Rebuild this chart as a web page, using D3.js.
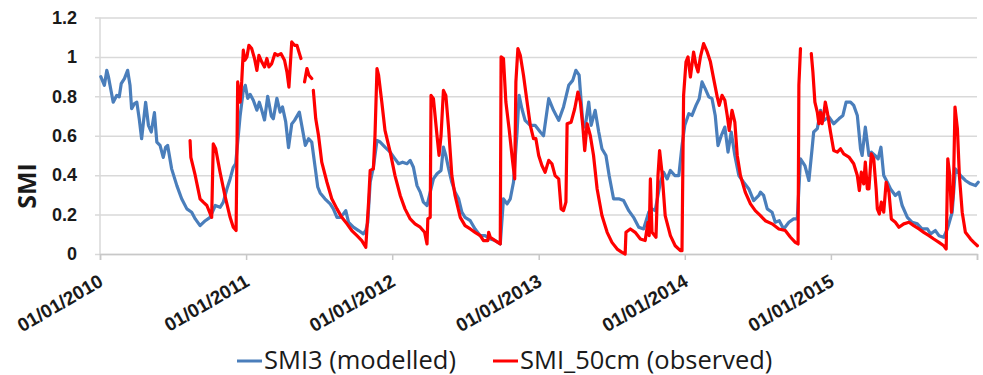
<!DOCTYPE html>
<html>
<head>
<meta charset="utf-8">
<script src="https://cdn.jsdelivr.net/npm/d3@7"></script>
<style>
  body { margin: 0; background: #fff; }
  svg { display: block; font-family: "Open Sans", sans-serif; }
</style>
</head>
<body>
<svg width="983" height="375"></svg>
<script>
// dates are "year-dayOfYear"
var smiDates = [
  "2010-003","2010-012","2010-018","2010-022","2010-026","2010-034","2010-043","2010-049","2010-054","2010-062",
  "2010-070","2010-076","2010-080","2010-087","2010-093","2010-099","2010-105","2010-115","2010-122","2010-129",
  "2010-137","2010-143","2010-151","2010-159","2010-165","2010-170","2010-180","2010-193","2010-205","2010-218",
  "2010-230","2010-239","2010-251","2010-264","2010-276","2010-289","2010-301","2010-309","2010-318","2010-326",
  "2010-334","2010-340","2010-351","2010-359","2010-364",
  "2011-005","2011-011","2011-019","2011-028","2011-034","2011-040","2011-047","2011-055","2011-064","2011-069",
  "2011-078","2011-086","2011-092","2011-100","2011-107","2011-115","2011-122","2011-134","2011-140","2011-149",
  "2011-157","2011-165","2011-174","2011-180","2011-186","2011-198","2011-211","2011-219","2011-228","2011-236",
  "2011-244","2011-250","2011-257","2011-269","2011-282","2011-294","2011-300","2011-305","2011-311","2011-319",
  "2011-328","2011-336","2011-348","2011-361",
  "2012-008","2012-017","2012-027","2012-038","2012-046","2012-054","2012-063","2012-071","2012-079","2012-088",
  "2012-096","2012-104","2012-113","2012-123","2012-129","2012-135","2012-142","2012-150","2012-158","2012-167",
  "2012-175","2012-183","2012-196","2012-208","2012-221","2012-233","2012-246","2012-258","2012-271","2012-279",
  "2012-288","2012-296","2012-304","2012-313","2012-318","2012-325","2012-333","2012-346","2012-358",
  "2013-005","2013-013","2013-026","2013-038","2013-051","2013-063","2013-076","2013-086","2013-094","2013-102",
  "2013-111","2013-117","2013-126","2013-132","2013-142","2013-151","2013-159","2013-169","2013-177","2013-188",
  "2013-201","2013-213","2013-226","2013-238","2013-251","2013-263","2013-276","2013-284","2013-292","2013-305",
  "2013-313","2013-322","2013-330","2013-341","2013-351","2013-359",
  "2014-001","2014-011","2014-019","2014-029","2014-037","2014-044","2014-052","2014-061","2014-069","2014-077",
  "2014-084","2014-092","2014-101","2014-109","2014-117","2014-126","2014-136","2014-148","2014-161","2014-173",
  "2014-186","2014-190","2014-198","2014-207","2014-219","2014-227","2014-237","2014-248","2014-261","2014-273",
  "2014-282","2014-290","2014-301","2014-311","2014-319","2014-323","2014-332","2014-340","2014-348","2014-361",
  "2015-008","2015-021","2015-031","2015-039","2015-050","2015-058","2015-067","2015-075","2015-079","2015-087",
  "2015-096","2015-102","2015-111","2015-119","2015-126","2015-133","2015-142","2015-150","2015-162","2015-171",
  "2015-179","2015-192","2015-204","2015-217","2015-229","2015-242","2015-250","2015-262","2015-271","2015-283",
  "2015-292","2015-304","2015-312","2015-325","2015-337","2015-350","2015-362","2016-004"
];
var smiValues = [
  0.90,0.856,0.932,0.90,0.856,0.77,0.805,0.797,0.864,0.89,
  0.932,0.856,0.737,0.763,0.77,0.686,0.585,0.77,0.653,0.619,
  0.717,0.568,0.551,0.49,0.542,0.551,0.432,0.347,0.28,0.229,
  0.212,0.178,0.144,0.169,0.186,0.246,0.237,0.263,0.33,0.381,
  0.44,0.458,0.70,0.83,0.856,
  0.79,0.81,0.78,0.73,0.77,0.73,0.68,0.80,0.70,0.686,
  0.79,0.72,0.746,0.67,0.54,0.66,0.678,0.72,0.653,0.551,
  0.585,0.568,0.432,0.34,0.31,0.28,0.254,0.229,0.186,0.186,
  0.203,0.22,0.161,0.136,0.119,0.102,0.119,0.161,0.364,0.44,
  0.576,0.568,0.542,0.517,
  0.483,0.458,0.466,0.458,0.475,0.44,0.347,0.314,0.263,0.246,
  0.314,0.381,0.407,0.424,0.542,0.50,0.432,0.364,0.314,0.28,
  0.212,0.186,0.169,0.127,0.093,0.093,0.076,0.068,0.051,0.28,
  0.254,0.28,0.364,0.619,0.805,0.737,0.678,0.653,0.653,
  0.619,0.60,0.788,0.729,0.678,0.746,0.856,0.881,0.932,0.907,
  0.669,0.644,0.771,0.653,0.729,0.619,0.534,0.50,0.398,0.28,
  0.28,0.271,0.22,0.186,0.136,0.127,0.212,0.229,0.22,0.364,
  0.415,0.381,0.424,0.398,0.398,0.55,
  0.653,0.712,0.703,0.754,0.788,0.873,0.839,0.797,0.788,0.703,
  0.55,0.60,0.644,0.517,0.619,0.50,0.398,0.364,0.33,0.271,
  0.297,0.314,0.297,0.229,0.212,0.161,0.169,0.127,0.161,0.178,
  0.178,0.483,0.449,0.373,0.534,0.619,0.636,0.729,0.678,0.695,
  0.661,0.686,0.703,0.771,0.771,0.754,0.703,0.534,0.50,0.644,
  0.50,0.517,0.50,0.483,0.542,0.398,0.364,0.33,0.297,0.314,
  0.246,0.186,0.161,0.153,0.127,0.127,0.102,0.119,0.093,0.085,
  0.127,0.212,0.432,0.398,0.373,0.356,0.347,0.364
];

// null = no observation (gap in the red line)
var obsDates = [
  "2010-226","2010-228","2010-238","2010-251","2010-259","2010-268","2010-280","2010-284","2010-290","2010-301",
  "2010-313","2010-326","2010-334","2010-341","2010-345","2010-348","2010-351","2010-355","2010-359","2010-363",
  "2011-003","2011-008","2011-015","2011-022","2011-028","2011-033","2011-040","2011-047","2011-053","2011-058",
  "2011-065","2011-073","2011-080","2011-088","2011-097","2011-103","2011-108","2011-115","2011-122","2011-128",
  "2011-133","2011-138","2011-142","2011-147","2011-153","2011-158","2011-165","2011-167","2011-169","2011-175",
  "2011-182","2011-190","2011-203","2011-215","2011-228","2011-240","2011-253","2011-265","2011-278","2011-290",
  "2011-300","2011-307","2011-311","2011-319","2011-323","2011-328","2011-332","2011-340","2011-348","2011-361",
  "2012-008","2012-021","2012-033","2012-046","2012-058","2012-071","2012-082","2012-088","2012-090","2012-096",
  "2012-098","2012-104","2012-113","2012-118","2012-123","2012-129","2012-135","2012-142","2012-150","2012-158",
  "2012-171","2012-183","2012-196","2012-208","2012-221","2012-229","2012-240","2012-242","2012-246","2012-258",
  "2012-271","2012-273","2012-279","2012-285","2012-293","2012-302","2012-307","2012-310","2012-315","2012-321",
  "2012-329","2012-338","2012-346","2012-354","2012-360",
  "2013-001","2013-009","2013-017","2013-026","2013-034","2013-042","2013-051","2013-057","2013-063","2013-069",
  "2013-072","2013-082","2013-091","2013-099","2013-105","2013-111","2013-116","2013-122","2013-130","2013-138",
  "2013-147","2013-159","2013-172","2013-184","2013-197","2013-209","2013-217","2013-219","2013-230","2013-242",
  "2013-255","2013-267","2013-274","2013-277","2013-280","2013-284","2013-291","2013-294","2013-299","2013-303",
  "2013-309","2013-317","2013-330","2013-342","2013-355","2013-359","2013-363",
  "2014-004","2014-009","2014-015","2014-023","2014-029","2014-034","2014-040","2014-048","2014-057","2014-065",
  "2014-073","2014-082","2014-087","2014-094","2014-101","2014-107","2014-112","2014-119","2014-126","2014-132",
  "2014-140","2014-152","2014-165","2014-177","2014-190","2014-202","2014-219","2014-236","2014-252","2014-265",
  "2014-277","2014-284","2014-286","2014-290","2014-300","2014-317","2014-321","2014-326","2014-332","2014-336",
  "2014-340","2014-344","2014-348","2014-352","2014-357","2014-365",
  "2015-008","2015-017","2015-025","2015-033","2015-046","2015-058","2015-067","2015-072","2015-077","2015-083",
  "2015-087","2015-092","2015-096","2015-102","2015-108","2015-114","2015-117","2015-122","2015-127","2015-133",
  "2015-139","2015-146","2015-152","2015-162","2015-171","2015-183","2015-196","2015-208","2015-221","2015-233",
  "2015-246","2015-258","2015-271","2015-283","2015-289","2015-293","2015-298","2015-302","2015-307","2015-311",
  "2015-317","2015-322","2015-329","2015-337","2015-350","2015-358","2016-002"
];
var obsValues = [
  0.576,0.49,0.407,0.28,0.263,0.246,0.186,0.559,0.534,0.415,
  0.297,0.186,0.136,0.119,0.873,0.822,0.771,0.873,1.034,0.983,
  1.0,1.059,1.042,0.992,0.932,1.008,0.975,0.949,0.992,0.949,
  0.966,1.017,1.008,1.017,0.983,0.924,0.847,1.076,1.059,1.059,
  1.025,0.992,null,0.873,0.941,0.907,0.89,null,0.83,0.686,
  0.60,0.466,0.364,0.28,0.229,0.186,0.153,0.119,0.093,0.068,
  0.034,0.263,0.424,0.432,0.60,0.941,0.907,0.771,0.627,0.517,
  0.398,0.297,0.229,0.178,0.153,0.136,0.11,0.051,0.178,0.186,
  0.805,0.788,0.60,0.50,0.60,0.83,0.805,0.636,0.398,0.297,
  0.186,0.144,0.127,0.11,0.093,0.068,0.068,0.11,0.085,0.068,
  0.051,1.0,0.992,0.771,0.636,0.466,0.381,0.873,1.042,1.008,
  0.907,0.771,0.653,0.585,0.585,
  0.50,0.449,0.415,0.475,0.458,0.398,0.381,0.229,0.22,0.263,
  0.661,0.669,0.737,0.822,0.771,0.653,0.525,0.661,0.60,0.50,
  0.33,0.195,0.11,0.059,0.025,0.008,0.0,0.11,0.127,0.11,
  0.076,0.068,0.161,0.093,0.381,0.11,0.093,0.085,0.398,0.525,
  0.415,0.195,0.093,0.042,0.017,0.017,0.805,
  0.975,1.0,0.898,1.025,0.958,0.924,1.0,1.068,1.025,0.975,
  0.89,0.797,0.754,0.805,0.78,0.703,0.627,0.729,0.669,0.50,
  0.398,0.314,0.254,0.22,0.195,0.169,0.153,0.127,0.119,0.085,
  0.059,0.051,0.856,1.042,null,1.017,0.924,0.771,0.72,0.661,
  0.72,0.661,0.703,0.771,0.72,0.619,
  0.525,0.517,0.534,0.508,0.492,0.458,0.398,0.322,0.415,0.356,
  0.466,0.33,0.33,0.508,0.483,0.33,0.229,0.203,0.263,0.212,
  0.364,0.314,0.178,0.161,0.136,0.153,0.161,0.144,0.127,0.11,
  0.093,0.076,0.059,0.042,0.025,0.483,0.398,0.212,0.314,0.746,
  0.636,0.398,0.212,0.11,0.076,0.059,0.042
];

var yTicks = [0, 0.2, 0.4, 0.6, 0.8, 1, 1.2];
var yTickLabels = ["0", "0.2", "0.4", "0.6", "0.8", "1", "1.2"];
var xTickDates = ["2010-001","2011-001","2012-001","2013-001","2014-001","2015-001","2016-001"];
var xTickLabels = ["01/01/2010","01/01/2011","01/01/2012","01/01/2013","01/01/2014","01/01/2015",""];
var seriesNames = ["SMI3 (modelled)", "SMI_50cm (observed)"];

var parse = d3.timeParse("%Y-%j");

var svg = d3.select("svg"),
    margin = {top: 17.5, right: 6, bottom: 121, left: 100},
    width = +svg.attr("width") - margin.left - margin.right,
    height = +svg.attr("height") - margin.top - margin.bottom;

var x = d3.scaleTime()
    .domain([parse(xTickDates[0]), parse(xTickDates[xTickDates.length - 1])])
    .range([0, width]);
var y = d3.scaleLinear().domain([0, 1.2]).range([height, 0]);

var g = svg.append("g")
    .attr("transform", "translate(" + margin.left + "," + margin.top + ")");

// horizontal gridlines + y labels
var yAxis = g.append("g")
    .call(d3.axisLeft(y).tickValues(yTicks).tickSize(-width)
      .tickFormat(function(d, i) { return yTickLabels[i]; }));
yAxis.select(".domain").remove();
yAxis.selectAll(".tick line")
    .attr("x1", -5)
    .attr("x2", width)
    .attr("stroke", "#d9d9d9")
    .attr("stroke-width", 1.5);
yAxis.selectAll(".tick text")
    .attr("fill", "#1a1a1a")
    .attr("x", -23)
    .style("font-size", "18px")
    .style("font-weight", "bold");

// left axis line
g.append("line")
    .attr("x1", 0).attr("x2", 0)
    .attr("y1", 0).attr("y2", height)
    .attr("stroke", "#d9d9d9")
    .attr("stroke-width", 1.5);

// bottom axis
var xAxis = g.append("g")
    .attr("transform", "translate(0," + height + ")")
    .call(d3.axisBottom(x).tickValues(xTickDates.map(parse)).tickSize(6)
      .tickFormat(function(d, i) { return xTickLabels[i]; }));
xAxis.select(".domain")
    .attr("stroke", "#c8c8c8")
    .attr("stroke-width", 1.5);
xAxis.selectAll(".tick line")
    .attr("stroke", "#c8c8c8")
    .attr("stroke-width", 1.5);
xAxis.selectAll(".tick text")
    .attr("fill", "#1a1a1a")
    .attr("y", 0)
    .attr("dy", 0)
    .attr("text-anchor", "end")
    .attr("transform", "translate(4,31) rotate(-30)")
    .style("font-size", "19px")
    .style("font-weight", "bold");

// y title
svg.append("text")
    .attr("transform", "translate(36,186) rotate(-90)")
    .attr("text-anchor", "middle")
    .attr("fill", "#1a1a1a")
    .style("font-size", "25px")
    .style("font-weight", "bold")
    .text("SMI");

function rows(dates, values) {
  return dates.map(function(d, i) { return {date: parse(d), value: values[i]}; });
}

var line = d3.line()
    .defined(function(d) { return d.value != null; })
    .x(function(d) { return x(d.date); })
    .y(function(d) { return y(d.value); });

g.append("path")
    .datum(rows(smiDates, smiValues))
    .attr("fill", "none")
    .attr("stroke", "#4a7ebb")
    .attr("stroke-width", 3.2)
    .attr("stroke-linejoin", "round")
    .attr("stroke-linecap", "round")
    .attr("d", line);

g.append("path")
    .datum(rows(obsDates, obsValues))
    .attr("fill", "none")
    .attr("stroke", "#ff0000")
    .attr("stroke-width", 3.2)
    .attr("stroke-linejoin", "round")
    .attr("stroke-linecap", "round")
    .attr("d", line);

// legend
var legend = svg.append("g");
var legendX = [237, 493];
var legendColors = ["#4a7ebb", "#ff0000"];
seriesNames.forEach(function(name, i) {
  legend.append("line")
      .attr("x1", legendX[i]).attr("x2", legendX[i] + 25)
      .attr("y1", 361).attr("y2", 361)
      .attr("stroke", legendColors[i])
      .attr("stroke-width", 3);
  legend.append("text")
      .attr("x", legendX[i] + 27)
      .attr("y", 369)
      .attr("fill", "#1a1a1a")
      .style("font-size", "25.5px")
      .text(name);
});
</script>
</body>
</html>
